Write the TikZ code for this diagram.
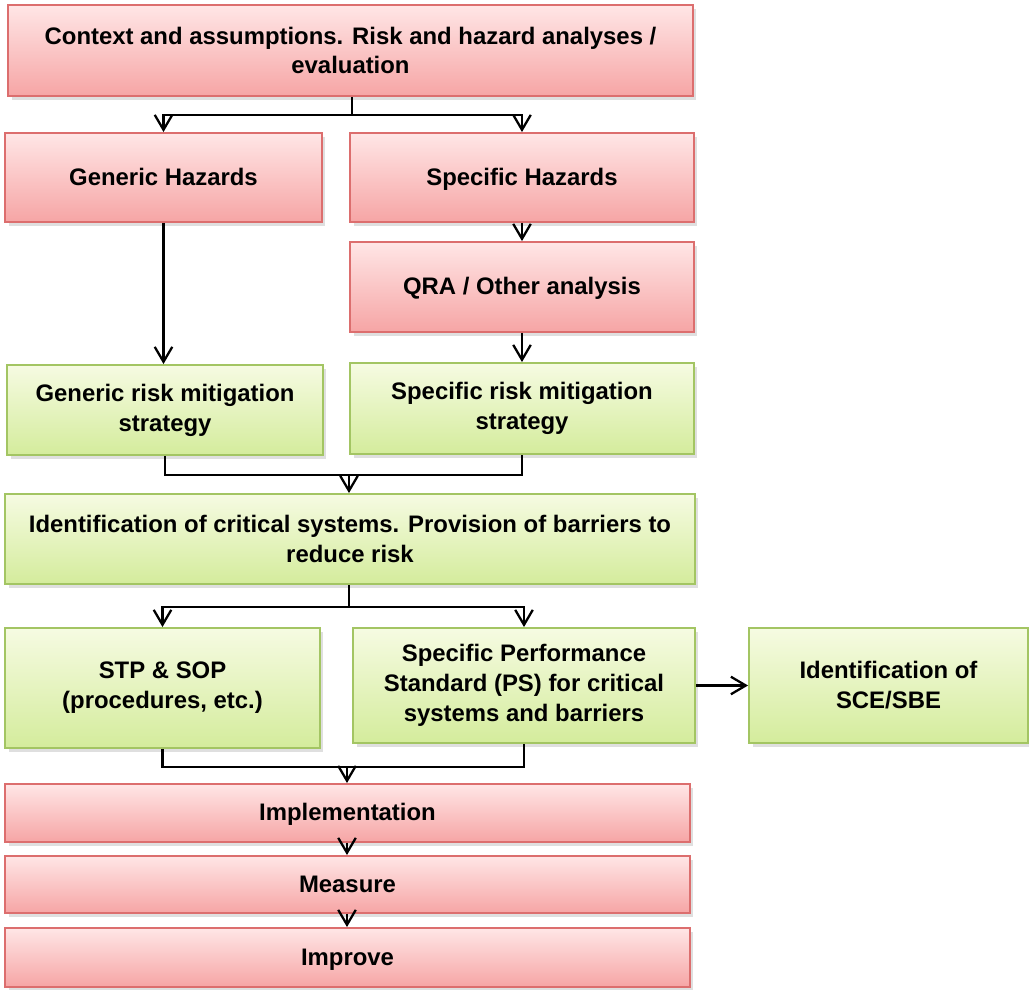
\documentclass[tikz,border=0pt]{standalone}
\usepackage{fontspec}
\setmainfont{Liberation Sans}
\usetikzlibrary{arrows.meta,shadows}
\definecolor{redline}{HTML}{DC6E6E}
\definecolor{redtop}{HTML}{FFE6E6}
\definecolor{redbot}{HTML}{F6A5A5}
\definecolor{greenline}{HTML}{A3C563}
\definecolor{greentop}{HTML}{F6FBE2}
\definecolor{greenbot}{HTML}{D4EC9C}
\begin{document}
\begin{tikzpicture}[x=0.02cm,y=-0.02cm,
  >={Straight Barb[length=8.5pt,width=10pt]},
  box/.style={draw,line width=1.1pt,inner sep=0pt,align=center,
    font=\fontsize{13.6}{17}\selectfont\bfseries,
    drop shadow={opacity=0.25,shadow xshift=2pt,shadow yshift=-2pt}},
  redbox/.style={box,draw=redline,top color=redtop,bottom color=redbot},
  greenbox/.style={box,draw=greenline,top color=greentop,bottom color=greenbot},
  oneline/.style={text height=0.9em,text depth=0pt},
  conn/.style={line width=1.3pt}]
\useasboundingbox (0,0) rectangle (1029,990);
\node[redbox,minimum width=13.7cm,minimum height=1.82cm] (ctx) at (350.5,50.5)
  {Context and assumptions. Risk and hazard analyses /\\evaluation};
\node[redbox,oneline,minimum width=6.34cm,minimum height=1.78cm] (gh) at (163.5,177.5) {Generic Hazards};
\node[redbox,oneline,minimum width=6.88cm,minimum height=1.78cm] (sh) at (522,177.5) {Specific Hazards};
\node[redbox,oneline,minimum width=6.88cm,minimum height=1.8cm] (qra) at (522,287) {QRA / Other analysis};
\node[greenbox,minimum width=6.32cm,minimum height=1.8cm] (grm) at (165,410)
  {Generic risk mitigation\\strategy};
\node[greenbox,minimum width=6.88cm,minimum height=1.82cm] (srm) at (522,408.5)
  {Specific risk mitigation\\strategy};
\node[greenbox,minimum width=13.8cm,minimum height=1.8cm] (ident) at (350,539)
  {Identification of critical systems. Provision of barriers to\\reduce risk};
\node[greenbox,minimum width=6.3cm,minimum height=2.4cm] (stp) at (162.5,688)
  {STP \& SOP\\(procedures, etc.)};
\node[greenbox,minimum width=6.84cm,minimum height=2.3cm] (ps) at (524,685.5)
  {Specific Performance\\Standard (PS) for critical\\systems and barriers};
\node[greenbox,minimum width=5.58cm,minimum height=2.3cm] (sce) at (888.5,685.5)
  {Identification of\\SCE/SBE};
\node[redbox,oneline,minimum width=13.7cm,minimum height=1.16cm] (impl) at (347.5,813) {Implementation};
\node[redbox,oneline,minimum width=13.7cm,minimum height=1.14cm] (meas) at (347.5,884.5) {Measure};
\node[redbox,oneline,minimum width=13.7cm,minimum height=1.18cm] (impr) at (347.5,957.5) {Improve};
% split and merge points
\coordinate (s1) at (352,115);
\coordinate (j1) at (349,475);
\coordinate (s2) at (349,607);
\coordinate (j2) at (347,767);
\draw[conn] (ctx.south -| s1) -- (s1);
\draw[conn,->] (s1) -| (gh.north);
\draw[conn,->] (s1) -| (sh.north);
\draw[conn,->] (sh.south) -- (qra.north);
\draw[conn,->] (gh.south) -- (gh.south |- grm.north);
\draw[conn,->] (qra.south) -- (srm.north);
\draw[conn] (grm.south) |- (j1) -| (srm.south);
\draw[conn,->] (j1) -- (j1 |- ident.north);
\draw[conn] (ident.south -| s2) -- (s2);
\draw[conn,->] (s2) -| (stp.north);
\draw[conn,->] (s2) -| (ps.north);
\draw[conn,->] (ps.east) -- (sce.west);
\draw[conn] (stp.south) |- (j2) -| (ps.south);
\draw[conn,->] (j2) -- (j2 |- impl.north);
\draw[conn,->] (impl.south -| j2) -- (j2 |- meas.north);
\draw[conn,->] (meas.south -| j2) -- (j2 |- impr.north);
\end{tikzpicture}
\end{document}
